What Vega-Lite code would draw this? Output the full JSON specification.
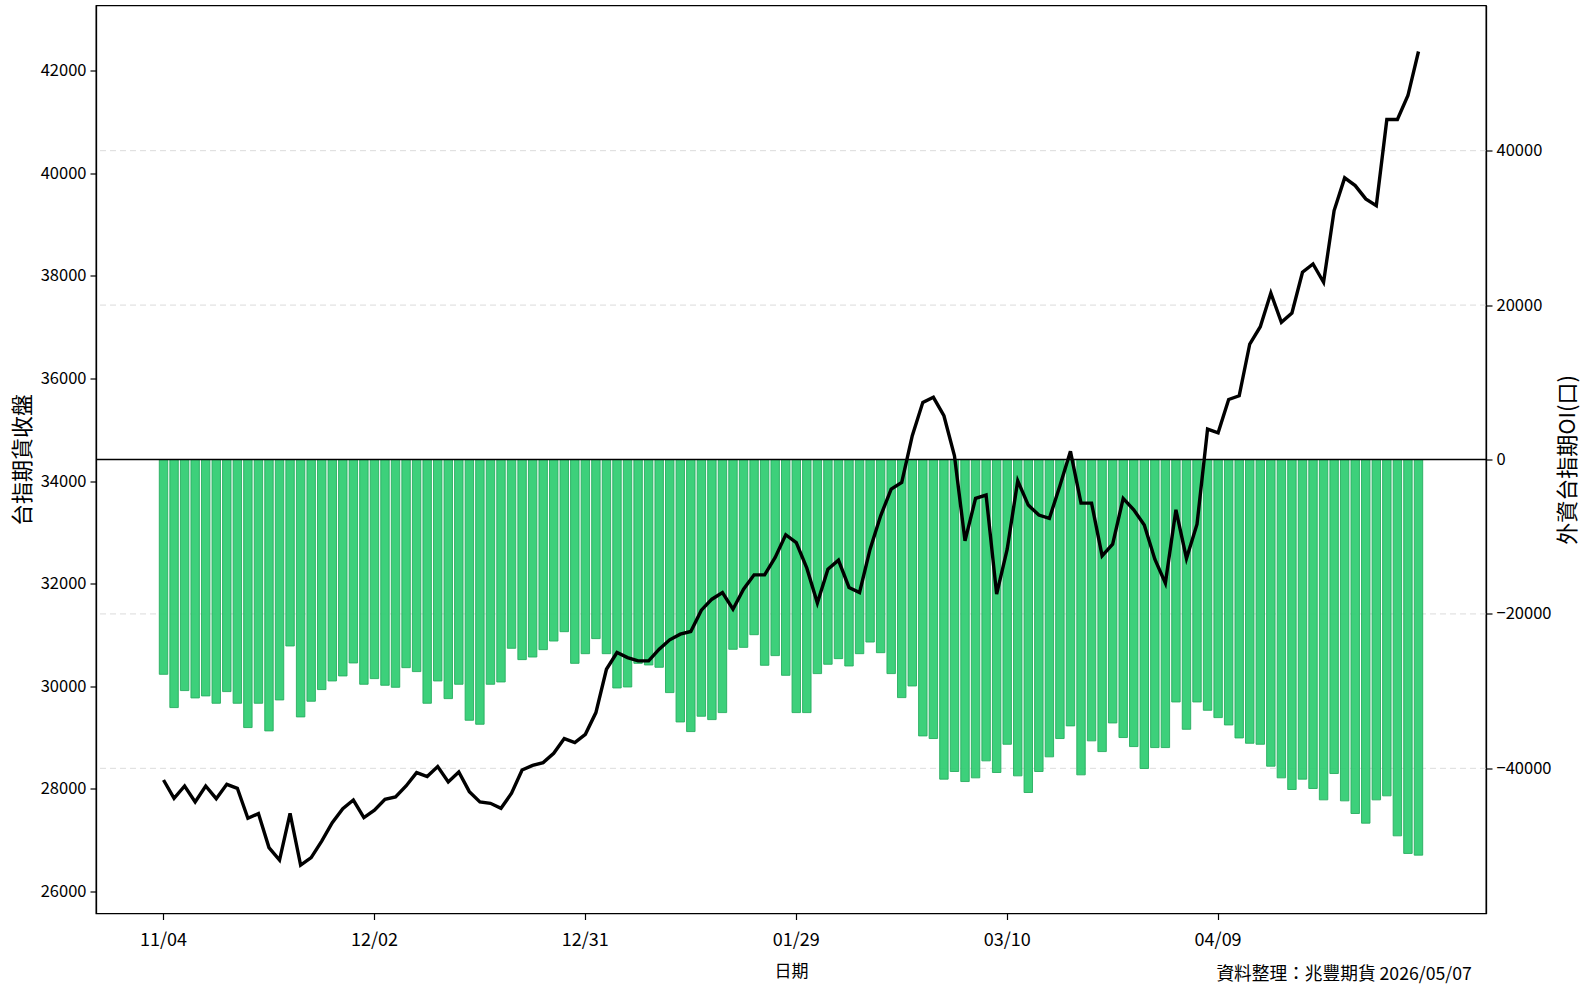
{
  "$schema": "https://vega.github.io/schema/vega-lite/v6.json",
  "width": 1390,
  "height": 908,
  "autosize": {"type": "none"},
  "padding": {"left": 96, "top": 5.5, "right": 103, "bottom": 71.5},
  "background": "white",
  "config": {
    "font": "Noto Sans CJK TC",
    "view": {"stroke": "black", "strokeWidth": 1.3},
    "axis": {
      "labelFont": "Noto Sans CJK TC",
      "titleFont": "Noto Sans CJK TC",
      "labelFontSize": 16.5,
      "titleFontSize": 22,
      "titleFontWeight": "normal",
      "labelColor": "#000000",
      "titleColor": "#000000",
      "tickColor": "#000000",
      "domainColor": "#000000",
      "domainWidth": 1.3,
      "tickWidth": 1.2,
      "tickSize": 6,
      "labelPadding": 4
    }
  },
  "title": {
    "text": "資料整理：兆豐期貨 2026/05/07",
    "orient": "bottom",
    "anchor": "end",
    "fontSize": 17.7,
    "fontWeight": "normal",
    "font": "Noto Sans CJK TC",
    "color": "#000000",
    "offset": -14,
    "dx": -107
  },
  "datasets": {
    "grid": [{"g": -40000}, {"g": -20000}, {"g": 20000}, {"g": 40000}],
    "zero": [{"zero": 0}]
  },
  "data": {
    "values": [
      {"date": "2025-11-04", "close": 28169, "oi": -27820},
      {"date": "2025-11-05", "close": 27812, "oi": -32130},
      {"date": "2025-11-06", "close": 28052, "oi": -29930},
      {"date": "2025-11-07", "close": 27740, "oi": -30880},
      {"date": "2025-11-10", "close": 28052, "oi": -30620},
      {"date": "2025-11-11", "close": 27805, "oi": -31570},
      {"date": "2025-11-12", "close": 28085, "oi": -30060},
      {"date": "2025-11-13", "close": 28007, "oi": -31570},
      {"date": "2025-11-14", "close": 27422, "oi": -34720},
      {"date": "2025-11-17", "close": 27513, "oi": -31570},
      {"date": "2025-11-18", "close": 26850, "oi": -35150},
      {"date": "2025-11-19", "close": 26608, "oi": -31140},
      {"date": "2025-11-20", "close": 27520, "oi": -24150},
      {"date": "2025-11-21", "close": 26510, "oi": -33340},
      {"date": "2025-11-24", "close": 26654, "oi": -31310},
      {"date": "2025-11-25", "close": 26978, "oi": -29800},
      {"date": "2025-11-26", "close": 27337, "oi": -28680},
      {"date": "2025-11-27", "close": 27610, "oi": -28030},
      {"date": "2025-11-28", "close": 27778, "oi": -26350},
      {"date": "2025-12-01", "close": 27435, "oi": -29110},
      {"date": "2025-12-02", "close": 27580, "oi": -28380},
      {"date": "2025-12-03", "close": 27792, "oi": -29240},
      {"date": "2025-12-04", "close": 27837, "oi": -29500},
      {"date": "2025-12-05", "close": 28052, "oi": -26960},
      {"date": "2025-12-08", "close": 28313, "oi": -27470},
      {"date": "2025-12-09", "close": 28235, "oi": -31570},
      {"date": "2025-12-10", "close": 28430, "oi": -28680},
      {"date": "2025-12-11", "close": 28130, "oi": -30970},
      {"date": "2025-12-12", "close": 28325, "oi": -29110},
      {"date": "2025-12-15", "close": 27942, "oi": -33770},
      {"date": "2025-12-16", "close": 27740, "oi": -34290},
      {"date": "2025-12-17", "close": 27714, "oi": -29110},
      {"date": "2025-12-18", "close": 27617, "oi": -28810},
      {"date": "2025-12-19", "close": 27910, "oi": -24450},
      {"date": "2025-12-22", "close": 28365, "oi": -25920},
      {"date": "2025-12-23", "close": 28455, "oi": -25580},
      {"date": "2025-12-24", "close": 28508, "oi": -24630},
      {"date": "2025-12-26", "close": 28690, "oi": -23510},
      {"date": "2025-12-29", "close": 28977, "oi": -22300},
      {"date": "2025-12-30", "close": 28899, "oi": -26400},
      {"date": "2025-12-31", "close": 29060, "oi": -25150},
      {"date": "2026-01-02", "close": 29484, "oi": -23200},
      {"date": "2026-01-05", "close": 30329, "oi": -25150},
      {"date": "2026-01-06", "close": 30655, "oi": -29590},
      {"date": "2026-01-07", "close": 30557, "oi": -29460},
      {"date": "2026-01-08", "close": 30492, "oi": -26400},
      {"date": "2026-01-09", "close": 30492, "oi": -26610},
      {"date": "2026-01-12", "close": 30720, "oi": -26910},
      {"date": "2026-01-13", "close": 30903, "oi": -30190},
      {"date": "2026-01-14", "close": 31013, "oi": -33990},
      {"date": "2026-01-15", "close": 31066, "oi": -35240},
      {"date": "2026-01-16", "close": 31481, "oi": -33250},
      {"date": "2026-01-19", "close": 31695, "oi": -33690},
      {"date": "2026-01-20", "close": 31826, "oi": -32780},
      {"date": "2026-01-21", "close": 31500, "oi": -24580},
      {"date": "2026-01-22", "close": 31890, "oi": -24330},
      {"date": "2026-01-23", "close": 32170, "oi": -22690},
      {"date": "2026-01-26", "close": 32170, "oi": -26650},
      {"date": "2026-01-27", "close": 32510, "oi": -25400},
      {"date": "2026-01-28", "close": 32952, "oi": -27950},
      {"date": "2026-01-29", "close": 32800, "oi": -32780},
      {"date": "2026-01-30", "close": 32300, "oi": -32780},
      {"date": "2026-02-02", "close": 31620, "oi": -27730},
      {"date": "2026-02-03", "close": 32281, "oi": -26520},
      {"date": "2026-02-04", "close": 32457, "oi": -25790},
      {"date": "2026-02-05", "close": 31924, "oi": -26740},
      {"date": "2026-02-06", "close": 31826, "oi": -25150},
      {"date": "2026-02-09", "close": 32671, "oi": -23640},
      {"date": "2026-02-10", "close": 33322, "oi": -25020},
      {"date": "2026-02-11", "close": 33842, "oi": -27730},
      {"date": "2026-02-23", "close": 33973, "oi": -30840},
      {"date": "2026-02-24", "close": 34884, "oi": -29330},
      {"date": "2026-02-25", "close": 35534, "oi": -35800},
      {"date": "2026-02-26", "close": 35632, "oi": -36140},
      {"date": "2026-03-02", "close": 35273, "oi": -41400},
      {"date": "2026-03-03", "close": 34492, "oi": -40410},
      {"date": "2026-03-04", "close": 32833, "oi": -41710},
      {"date": "2026-03-05", "close": 33660, "oi": -41230},
      {"date": "2026-03-06", "close": 33725, "oi": -39030},
      {"date": "2026-03-09", "close": 31793, "oi": -40540},
      {"date": "2026-03-10", "close": 32671, "oi": -36880},
      {"date": "2026-03-11", "close": 34005, "oi": -40970},
      {"date": "2026-03-12", "close": 33530, "oi": -43130},
      {"date": "2026-03-13", "close": 33335, "oi": -40410},
      {"date": "2026-03-16", "close": 33270, "oi": -38510},
      {"date": "2026-03-17", "close": 33907, "oi": -36140},
      {"date": "2026-03-18", "close": 34578, "oi": -34500},
      {"date": "2026-03-19", "close": 33569, "oi": -40840},
      {"date": "2026-03-20", "close": 33569, "oi": -36440},
      {"date": "2026-03-23", "close": 32541, "oi": -37830},
      {"date": "2026-03-24", "close": 32769, "oi": -34120},
      {"date": "2026-03-25", "close": 33660, "oi": -36010},
      {"date": "2026-03-26", "close": 33438, "oi": -37180},
      {"date": "2026-03-27", "close": 33140, "oi": -40020},
      {"date": "2026-03-30", "close": 32476, "oi": -37310},
      {"date": "2026-03-31", "close": 32008, "oi": -37310},
      {"date": "2026-04-01", "close": 33438, "oi": -31400},
      {"date": "2026-04-02", "close": 32490, "oi": -34940},
      {"date": "2026-04-07", "close": 33159, "oi": -31400},
      {"date": "2026-04-08", "close": 35012, "oi": -32480},
      {"date": "2026-04-09", "close": 34940, "oi": -33430},
      {"date": "2026-04-10", "close": 35590, "oi": -34380},
      {"date": "2026-04-13", "close": 35663, "oi": -36060},
      {"date": "2026-04-14", "close": 36672, "oi": -36750},
      {"date": "2026-04-15", "close": 37010, "oi": -36880},
      {"date": "2026-04-16", "close": 37667, "oi": -39720},
      {"date": "2026-04-17", "close": 37096, "oi": -41230},
      {"date": "2026-04-20", "close": 37277, "oi": -42740},
      {"date": "2026-04-21", "close": 38071, "oi": -41400},
      {"date": "2026-04-22", "close": 38233, "oi": -42610},
      {"date": "2026-04-23", "close": 37876, "oi": -44080},
      {"date": "2026-04-24", "close": 39274, "oi": -40670},
      {"date": "2026-04-27", "close": 39912, "oi": -44210},
      {"date": "2026-04-28", "close": 39762, "oi": -45850},
      {"date": "2026-04-29", "close": 39502, "oi": -47100},
      {"date": "2026-04-30", "close": 39371, "oi": -44080},
      {"date": "2026-05-04", "close": 41050, "oi": -43560},
      {"date": "2026-05-05", "close": 41050, "oi": -48740},
      {"date": "2026-05-06", "close": 41518, "oi": -51020},
      {"date": "2026-05-07", "close": 42377, "oi": -51240}
    ]
  },
  "layer": [
    {
      "layer": [
        {
          "data": {"name": "grid"},
          "mark": {"type": "rule", "color": "#d0d0d0", "strokeWidth": 1, "strokeDash": [6, 4], "opacity": 0.75},
          "encoding": {
            "y": {
              "field": "g", "type": "quantitative",
              "scale": {"domain": [-58800, 58800], "nice": false, "zero": false},
              "axis": {
                "orient": "right",
                "title": "外資台指期OI(口)",
                "titleAngle": 270,
                "titlePadding": 29,
                "values": [-40000, -20000, 0, 20000, 40000],
                "format": "d",
                "grid": false
              }
            }
          }
        },
        {
          "mark": {"type": "bar", "fill": "#2ecc71", "fillOpacity": 0.93, "stroke": "#27ae60", "strokeWidth": 0.9},
          "encoding": {
            "x": {
              "field": "date", "type": "ordinal", "sort": null,
              "scale": {"paddingInner": 0.2, "paddingOuter": 0, "range": [63.3, 1326.7]},
              "axis": {
                "values": ["2025-11-04", "2025-12-02", "2025-12-31", "2026-01-29", "2026-03-10", "2026-04-09"],
                "labelExpr": "slice(datum.value, 5, 7) + '/' + slice(datum.value, 8, 10)",
                "labelAngle": 0,
                "labelFontSize": 18,
                "title": "日期",
                "titleFontSize": 17,
                "titlePadding": 14,
                "labelPadding": 12,
                "domain": false,
                "grid": false
              }
            },
            "y": {"field": "oi", "type": "quantitative"}
          }
        },
        {
          "data": {"name": "zero"},
          "mark": {"type": "rule", "color": "#000000", "strokeWidth": 1.3},
          "encoding": {
            "y": {"field": "zero", "type": "quantitative"}
          }
        }
      ]
    },
    {
      "mark": {"type": "line", "color": "#000000", "strokeWidth": 3.4, "strokeJoin": "miter"},
      "encoding": {
        "x": {
          "field": "date", "type": "ordinal", "sort": null, "bandPosition": 0.5,
          "scale": {"paddingInner": 0.2, "paddingOuter": 0, "range": [63.3, 1326.7]},
          "axis": {
            "values": ["2025-11-04", "2025-12-02", "2025-12-31", "2026-01-29", "2026-03-10", "2026-04-09"],
            "labelExpr": "slice(datum.value, 5, 7) + '/' + slice(datum.value, 8, 10)",
            "labelAngle": 0,
            "labelFontSize": 18,
            "title": "日期",
            "titleFontSize": 17,
            "titlePadding": 14,
            "labelPadding": 12,
            "domain": false,
            "grid": false
          }
        },
        "y": {
          "field": "close", "type": "quantitative",
          "scale": {"domain": [25565, 43274], "nice": false, "zero": false},
          "axis": {
            "orient": "left",
            "title": "台指期貨收盤",
            "titlePadding": 6,
            "values": [26000, 28000, 30000, 32000, 34000, 36000, 38000, 40000, 42000],
            "format": "d",
            "grid": false
          }
        }
      }
    }
  ],
  "resolve": {"scale": {"y": "independent"}}
}
